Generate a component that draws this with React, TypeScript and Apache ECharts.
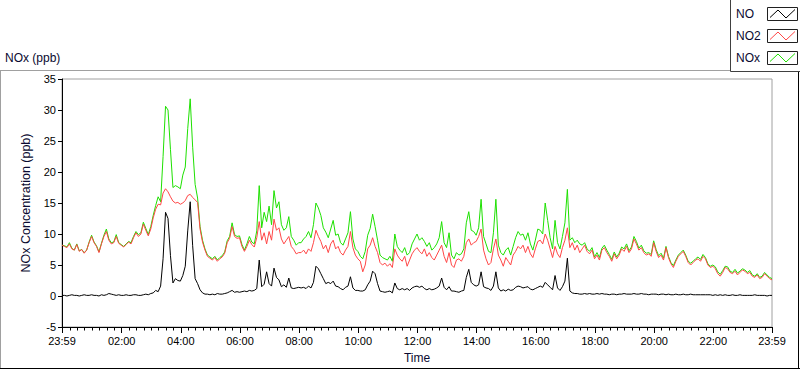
import React, { useEffect, useRef } from "react";
import * as echarts from "echarts";

// sample timing: first sample at 23:59 (minute -1 of the day), one sample every 5 minutes
const startMinute = -1;
const stepMinutes = 5;

const seriesNames = ["NO", "NO2", "NOx"];
const seriesColors = ["#000000", "#ff4646", "#1ee000"];

const no = [
  0.1, 0.1, 0.0, 0.1, 0.2, 0.1, 0.1, 0.0, 0.1, 0.2,
  0.1, 0.1, 0.2, 0.1, 0.1, 0.0, 0.2, 0.1, 0.2, 0.4,
  0.3, 0.2, 0.1, 0.2, 0.1, 0.1, 0.2, 0.1, 0.1, 0.2,
  0.2, 0.1, 0.1, 0.2, 0.3, 0.2, 0.4, 0.5, 0.9, 0.7,
  1.6, 6.0, 13.5, 12.5, 6.5, 2.1, 2.8, 2.5, 2.4, 3.3,
  4.8, 10.5, 15.2, 8.1, 2.8, 2.0, 1.0, 0.5, 0.3, 0.3,
  0.2, 0.3, 0.2, 0.4, 0.3, 0.3, 0.4, 0.5, 0.7, 0.9,
  0.6, 0.7, 0.6, 0.7, 0.8, 0.7, 0.9, 0.8, 0.9, 1.2,
  5.8, 1.5, 1.9, 3.9, 2.0, 1.6, 4.5, 3.0, 2.6, 1.5,
  1.8, 1.4, 2.9, 1.3, 1.2, 1.3, 1.4, 1.3, 1.4, 1.2,
  1.6, 1.3, 2.2, 4.8, 4.4, 3.6, 2.8, 2.0, 2.2, 2.0,
  2.4, 1.6, 1.5, 1.2, 1.0, 1.4, 1.6, 3.1, 1.3, 0.9,
  0.9, 0.8, 0.8, 1.0, 1.8, 2.4, 4.0, 3.6, 2.0, 0.8,
  0.7, 0.6, 0.7, 0.8, 0.5, 2.1, 1.2, 1.0, 1.2, 1.0,
  1.2, 0.9, 1.3, 1.5, 1.6, 1.4, 1.6, 1.2, 1.0, 1.2,
  1.0, 1.1, 1.3, 1.6, 2.9, 1.4, 1.0, 1.5, 0.8, 0.8,
  0.7, 0.6, 0.8, 0.9, 3.0, 4.3, 2.2, 1.8, 1.6, 1.8,
  3.9, 1.5, 1.3, 1.2, 0.9, 1.6, 3.9, 1.3, 0.8, 1.0,
  0.8, 1.1, 0.9, 1.0, 1.4, 1.6, 1.5, 1.3, 1.4, 1.5,
  1.1, 1.0, 1.2, 1.4, 1.6, 1.4, 2.2, 1.8, 1.4, 1.0,
  3.3, 1.3, 0.9, 1.5, 2.4, 6.1, 0.8, 0.5, 0.4, 0.4,
  0.3, 0.3, 0.4, 0.3, 0.4, 0.3, 0.3, 0.4, 0.3, 0.4,
  0.3, 0.3, 0.2, 0.3, 0.3, 0.2, 0.3, 0.3, 0.4, 0.3,
  0.3, 0.3, 0.4, 0.3, 0.3, 0.4, 0.3, 0.3, 0.2, 0.3,
  0.3, 0.3, 0.2, 0.3, 0.3, 0.2, 0.3, 0.2, 0.2, 0.3,
  0.2, 0.2, 0.3, 0.2, 0.2, 0.3, 0.2, 0.2, 0.2, 0.2,
  0.2, 0.2, 0.2, 0.2, 0.1, 0.2, 0.1, 0.2, 0.1, 0.2,
  0.1, 0.1, 0.2, 0.1, 0.1, 0.2, 0.1, 0.1, 0.1, 0.1,
  0.1, 0.2, 0.1, 0.1, 0.1, 0.1, 0.0, 0.1, 0.1,
];

const no2 = [
  8.2, 8.0, 7.8, 8.4, 7.6, 7.4, 8.3, 7.2, 7.5, 6.9,
  7.4, 8.6, 9.6, 8.6, 8.0, 7.0, 8.4, 9.6, 10.4, 9.0,
  8.4, 8.6, 9.6, 8.5, 8.2, 7.9, 8.3, 8.7, 8.4, 9.4,
  10.2, 9.6, 10.0, 11.6, 10.6, 9.7, 10.8, 12.6, 14.0, 14.8,
  14.7, 16.6, 17.3, 16.8, 16.0, 15.3, 15.0, 15.1, 14.8, 15.0,
  15.4, 16.2, 16.4, 15.9, 15.5, 15.1, 10.8, 8.7, 7.4, 6.4,
  6.1, 5.8, 6.2, 5.6, 6.0, 6.3, 6.9, 8.6, 9.3, 11.2,
  9.6, 9.3, 9.4, 8.0, 7.2, 8.0, 9.0, 8.3, 7.9, 9.4,
  12.0, 9.0, 10.2, 8.4, 10.4, 9.0, 12.4, 10.6, 11.0, 9.2,
  8.4, 9.0, 9.6, 8.0, 7.5, 6.8, 7.0, 7.0, 7.4, 6.8,
  7.6, 7.2, 8.6, 10.6, 9.6, 8.8, 7.6, 8.2, 7.0, 8.4,
  9.0, 7.6, 8.0, 7.0, 6.6, 7.4, 8.0, 10.4, 7.8, 6.6,
  6.0, 5.6, 3.9, 5.0, 7.6, 8.2, 9.4, 8.0, 7.0, 5.4,
  5.0, 5.3, 4.8, 5.2, 4.6, 7.6, 6.6, 6.0, 5.6, 6.4,
  4.8, 5.8, 6.8, 7.4, 7.8, 7.2, 6.8, 7.6, 6.4, 7.0,
  6.2, 5.8, 6.6, 7.4, 8.2, 6.4, 5.4, 7.0, 5.0, 4.6,
  5.8, 6.0, 5.6, 6.4, 8.6, 9.2, 8.2, 8.6, 8.8, 9.6,
  10.8, 7.4, 6.0, 5.0, 5.4, 7.6, 9.2, 6.6, 5.8, 4.8,
  6.2, 5.6, 5.0, 6.6, 7.2, 8.0, 7.6, 8.2, 7.0, 8.0,
  6.8, 6.2, 7.6, 8.8, 9.0, 8.4, 10.0, 9.0, 7.6, 6.2,
  8.0, 6.8, 6.2, 7.8, 9.0, 11.0, 7.8, 8.6, 7.4, 8.2,
  7.0, 7.6, 8.2, 7.2, 6.8, 7.4, 6.0, 6.6, 5.8, 7.4,
  7.8, 7.0, 6.4, 5.6, 6.8, 6.0, 6.6, 7.6, 7.2, 8.0,
  7.0, 7.6, 9.2, 8.4, 7.4, 7.8, 7.0, 6.6, 6.8, 6.4,
  8.6, 7.2, 6.2, 6.6, 5.8, 7.8, 6.2, 5.2, 4.6, 5.6,
  6.4, 6.8, 7.2, 6.4, 5.4, 5.0, 5.4, 5.8, 6.0, 5.6,
  6.4, 6.0, 5.0, 4.6, 4.8, 4.4, 3.6, 3.2, 3.8, 4.6,
  4.4, 3.8, 3.6, 4.0, 3.4, 3.8, 4.2, 4.0, 3.6, 3.8,
  3.2, 3.0, 3.4, 2.8, 3.0, 3.6, 3.2, 2.8, 2.6,
];

const nox = [
  8.2, 8.1, 7.9, 8.6, 7.7, 7.4, 8.4, 7.3, 7.5, 7.0,
  7.4, 8.7, 9.8, 8.7, 8.1, 7.1, 8.5, 9.8, 10.8, 9.2,
  8.6, 8.7, 9.9, 8.6, 8.3, 8.0, 8.4, 8.8, 8.6, 9.6,
  10.4, 9.9, 10.2, 11.9, 10.9, 9.9, 11.2, 13.0, 14.6, 16.0,
  15.2, 22.5, 30.6, 30.0, 23.6, 17.5, 17.8, 17.6, 17.3, 19.5,
  20.8, 27.0, 31.8, 24.0, 18.0, 15.8, 11.2, 9.0, 7.6, 6.6,
  6.3, 6.0, 6.4, 5.8, 6.2, 6.5, 7.1, 8.9, 9.6, 11.8,
  9.9, 9.6, 9.7, 8.3, 7.4, 8.4, 9.6, 8.7, 8.4, 10.5,
  17.8, 11.0, 13.5, 12.0, 14.5, 11.5, 17.0, 14.2, 15.2, 11.5,
  10.6, 11.0, 12.8, 9.6, 9.0, 8.2, 8.6, 8.6, 9.2, 9.6,
  10.4, 9.4, 11.5, 15.0, 14.2, 13.0, 11.0, 10.3, 9.4, 10.8,
  12.2, 9.8, 10.0, 8.6, 8.2, 9.2, 10.2, 13.6, 9.2, 7.6,
  7.2, 6.4, 6.0, 7.2, 9.8, 10.9, 13.2, 11.2, 9.0, 6.6,
  6.2, 6.0, 5.8, 6.4, 5.6, 10.0, 8.0, 7.4, 7.0, 7.8,
  6.6, 7.0, 8.4, 9.2, 10.0, 9.0, 9.4, 8.8, 8.0, 8.6,
  7.4, 7.8, 8.4, 9.4, 12.0, 8.6, 7.8, 10.2, 6.6, 6.0,
  7.0, 6.6, 6.8, 7.6, 11.8, 13.6, 10.6, 10.4, 9.8, 11.0,
  15.6, 9.6, 8.4, 7.2, 7.0, 10.2, 15.6, 8.2, 7.0, 6.6,
  7.4, 7.8, 6.6, 8.0, 9.4, 10.4, 9.8, 10.0, 9.0, 10.2,
  8.4, 7.4, 9.0, 10.8, 10.6, 10.0, 15.0, 12.2, 9.4, 7.6,
  12.2, 8.6, 7.6, 9.6, 11.8, 17.2, 9.0, 9.4, 8.6, 9.0,
  8.4, 8.2, 8.6, 7.6, 7.2, 7.8, 6.3, 7.0, 6.2, 7.7,
  8.2, 7.4, 6.7, 5.9, 7.1, 6.3, 6.9, 7.9, 7.6, 8.4,
  7.3, 7.9, 9.6, 8.8, 7.7, 8.2, 7.3, 6.9, 7.0, 6.7,
  8.9, 7.5, 6.5, 6.9, 6.1, 8.0, 6.4, 5.4, 4.9, 5.8,
  6.6, 7.0, 7.4, 6.6, 5.6, 5.3, 5.6, 6.0, 6.3, 5.9,
  6.7, 6.2, 5.2, 4.8, 5.0, 4.7, 3.9, 3.5, 4.1, 4.8,
  4.7, 4.0, 3.8, 4.3, 3.7, 4.0, 4.4, 4.2, 3.8, 4.1,
  3.4, 3.2, 3.6, 3.0, 3.2, 3.8, 3.4, 3.0, 2.8,
];

// axis ticks (minutes of day): 23:59, 02:00 ... 22:00, 23:59
const xLabelValues = [-1, 120, 240, 360, 480, 600, 720, 840, 960, 1080, 1200, 1320, 1439];
const yMin = -5;
const yMax = 35;
const yInterval = 5;

const FONT = "'Liberation Sans', Arial, sans-serif";

function pad(n: number) {
  return (n < 10 ? "0" : "") + n;
}
function fmtTime(v: number) {
  const t = ((Math.round(v) % 1440) + 1440) % 1440;
  return pad(Math.floor(t / 60)) + ":" + pad(t % 60);
}
function toPairs(vals: number[]) {
  return vals.map((v, i) => [startMinute + i * stepMinutes, v]);
}

export default function App() {
  const ref = useRef<HTMLDivElement>(null);
  useEffect(() => {
    if (!ref.current) return;
    const chart = echarts.init(ref.current, undefined, { renderer: "svg" });

    const minorTicks: number[] = [];
    for (let m = 15; m < 1439; m += 15) if (m % 120 !== 0) minorTicks.push(m);

    const data = [no, no2, nox];
    const order = [2, 1, 0]; // NOx bottom, NO2, NO on top
    const series = order.map((k) => ({
      name: seriesNames[k],
      type: "line",
      xAxisIndex: 0,
      yAxisIndex: 0,
      data: toPairs(data[k]),
      showSymbol: false,
      symbol: "none",
      lineStyle: { color: seriesColors[k], width: 1 },
      itemStyle: { color: seriesColors[k] },
      emphasis: { disabled: true },
    }));

    const legendY = [14, 36, 58];
    const boxY = [7.5, 29.5, 51.5];
    const legendGraphics: any[] = [
      {
        type: "rect",
        shape: { x: 730.5, y: -1, width: 80, height: 72.5 },
        style: { fill: "#ffffff", stroke: "#404040", lineWidth: 1 },
        z: 10,
      },
    ];
    seriesNames.forEach((nm, k) => {
      legendGraphics.push({
        type: "text",
        x: 736,
        y: legendY[k],
        style: {
          text: nm,
          fill: "#0a0a30",
          font: `12px ${FONT}`,
          textVerticalAlign: "middle",
          textAlign: "left",
        },
        z: 11,
      });
      legendGraphics.push({
        type: "rect",
        shape: { x: 767.5, y: boxY[k], width: 30, height: 13 },
        style: { fill: "#ffffff", stroke: "#202020", lineWidth: 1 },
        z: 11,
      });
      const b = boxY[k];
      legendGraphics.push({
        type: "polyline",
        shape: {
          points: [
            [770, b + 10],
            [778, b + 2.5],
            [786, b + 10.5],
            [795, b + 2],
          ],
        },
        style: { stroke: seriesColors[k], lineWidth: 1, fill: "none" },
        z: 12,
      });
    });

    const option: any = {
      animation: false,
      backgroundColor: "#ffffff",
      grid: {
        left: 62,
        right: 28,
        top: 79,
        bottom: 40,
        show: true,
        borderColor: "#a0a0a0",
        borderWidth: 1,
        backgroundColor: "transparent",
      },
      xAxis: [
        {
          type: "value",
          min: -1,
          max: 1439,
          position: "bottom",
          name: "Time",
          nameLocation: "middle",
          nameGap: 25,
          nameTextStyle: { color: "#0a0a30", fontSize: 12, fontFamily: FONT },
          axisLine: { show: true, onZero: false, lineStyle: { color: "#000000", width: 1 } },
          axisTick: {
            show: true,
            customValues: xLabelValues,
            length: 6,
            lineStyle: { color: "#000000" },
          },
          axisLabel: {
            customValues: xLabelValues,
            formatter: (v: number) => fmtTime(v),
            margin: 8,
            color: "#000000",
            fontSize: 11,
            fontFamily: FONT,
            showMinLabel: true,
            showMaxLabel: true,
          },
          splitLine: { show: false },
        },
        {
          type: "value",
          min: -1,
          max: 1439,
          position: "bottom",
          axisLine: { show: false, onZero: false },
          axisTick: {
            show: true,
            customValues: minorTicks,
            length: 3.5,
            lineStyle: { color: "#000000" },
          },
          axisLabel: { show: false },
          splitLine: { show: false },
        },
      ],
      yAxis: {
        type: "value",
        min: yMin,
        max: yMax,
        interval: yInterval,
        name: "NOx Concentration (ppb)",
        nameLocation: "middle",
        nameGap: 25,
        nameRotate: 90,
        nameTextStyle: { color: "#0a0a30", fontSize: 12.5, fontFamily: FONT },
        axisLine: { show: true, onZero: false, lineStyle: { color: "#000000", width: 1 } },
        axisTick: { show: true, length: 4, lineStyle: { color: "#000000" } },
        axisLabel: { margin: 6, color: "#000000", fontSize: 11, fontFamily: FONT },
        splitLine: { show: false },
      },
      series,
      graphic: [
        // outer panel frame
        { type: "line", shape: { x1: 0, y1: 70.5, x2: 731, y2: 70.5 }, style: { stroke: "#a0a0a0", lineWidth: 1 } },
        { type: "line", shape: { x1: 0.5, y1: 70, x2: 0.5, y2: 369 }, style: { stroke: "#a0a0a0", lineWidth: 1 } },
        { type: "line", shape: { x1: 0, y1: 368.5, x2: 800, y2: 368.5 }, style: { stroke: "#000000", lineWidth: 1 } },
        { type: "line", shape: { x1: 798.5, y1: 71, x2: 798.5, y2: 369 }, style: { stroke: "#000000", lineWidth: 1 } },
        {
          type: "text",
          x: 5,
          y: 52,
          style: { text: "NOx (ppb)", fill: "#0a0a30", font: `12px ${FONT}`, textVerticalAlign: "top" },
        },
        ...legendGraphics,
      ],
    };
    chart.setOption(option);
    return () => chart.dispose();
  }, []);
  return <div ref={ref} style={{ width: 800, height: 369, position: "fixed", left: 0, top: 0 }} />;
}
